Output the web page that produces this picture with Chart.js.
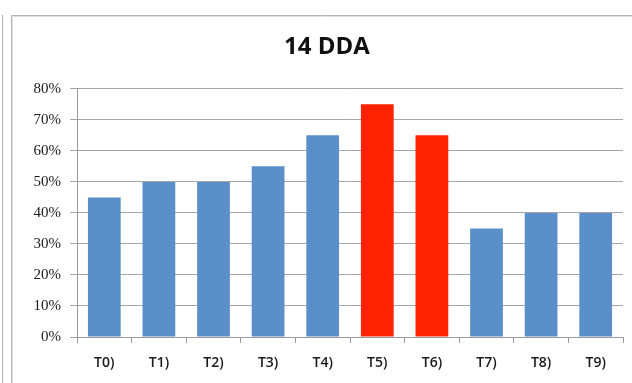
<!DOCTYPE html>
<html>
<head>
<meta charset="utf-8">
<script src="https://cdn.jsdelivr.net/npm/chart.js@4.4.1/dist/chart.umd.min.js"></script>
<style>
  html, body { margin: 0; padding: 0; background: #ffffff; }
  #wrap { width: 632px; height: 383px; position: relative; }
</style>
</head>
<body>
<div id="wrap"><canvas id="c" width="632" height="383"></canvas></div>
<script>
// Treatments and their share (fraction) at 14 DDA
const categories = ['T0)', 'T1)', 'T2)', 'T3)', 'T4)', 'T5)', 'T6)', 'T7)', 'T8)', 'T9)'];
const shares = [0.45, 0.50, 0.50, 0.55, 0.65, 0.75, 0.65, 0.35, 0.40, 0.40];
const highlighted = ['T5)', 'T6)'];
const titleText = '14 DDA';

const BLUE = '#5b8fc9';
const RED = '#ff2200';
const barColors = categories.map(c => highlighted.includes(c) ? RED : BLUE);

// Panel frame lines around the chart
const framePlugin = {
  id: 'frame',
  beforeDraw(chart) {
    const ctx = chart.ctx;
    ctx.save();
    ctx.strokeStyle = '#b4b4b4';
    ctx.lineWidth = 1;
    ctx.beginPath();
    ctx.moveTo(2.5, 15); ctx.lineTo(2.5, 383);
    ctx.moveTo(11.5, 383); ctx.lineTo(11.5, 15.5); ctx.lineTo(632, 15.5);
    ctx.stroke();
    ctx.strokeStyle = '#e2e2e2';
    ctx.beginPath();
    ctx.moveTo(12.5, 383); ctx.lineTo(12.5, 16.5); ctx.lineTo(632, 16.5);
    ctx.stroke();
    ctx.restore();
  }
};

new Chart(document.getElementById('c'), {
  type: 'bar',
  data: {
    labels: categories,
    datasets: [{
      data: shares,
      backgroundColor: barColors,
      borderWidth: 0,
      categoryPercentage: 0.6,
      barPercentage: 1.0
    }]
  },
  options: {
    responsive: false,
    animation: false,
    devicePixelRatio: 1,
    layout: { padding: { left: 31, right: 9, top: 15, bottom: 0 } },
    plugins: {
      legend: { display: false },
      tooltip: { enabled: false },
      title: {
        display: true,
        text: titleText,
        color: '#111111',
        font: { family: "'Open Sans', 'Liberation Sans', sans-serif", size: 24, weight: 'bold', lineHeight: 1.2 },
        padding: { top: 18, bottom: 27 }
      }
    },
    scales: {
      x: {
        offset: true,
        grid: {
          display: true,
          offset: true,
          drawOnChartArea: false,
          drawTicks: true,
          tickLength: 6,
          color: '#9a9a9a'
        },
        border: { display: true, color: '#9a9a9a' },
        ticks: {
          color: '#1a1a1a',
          padding: 12,
          font: { family: "'Open Sans', 'Liberation Sans', sans-serif", size: 14, weight: '600' }
        },
        afterFit(scale) { scale.height = 46; }
      },
      y: {
        min: 0,
        max: 0.8,
        ticks: {
          stepSize: 0.1,
          color: '#1a1a1a',
          padding: 9,
          font: { family: "'Liberation Serif', serif", size: 15 },
          callback: v => Math.round(v * 100) + '%'
        },
        grid: {
          color: '#a6a6a6',
          tickLength: 7,
          drawTicks: true
        },
        border: { display: true, color: '#9a9a9a' },
        afterFit(scale) { scale.width = 46; }
      }
    }
  },
  plugins: [framePlugin]
});
</script>
</body>
</html>
